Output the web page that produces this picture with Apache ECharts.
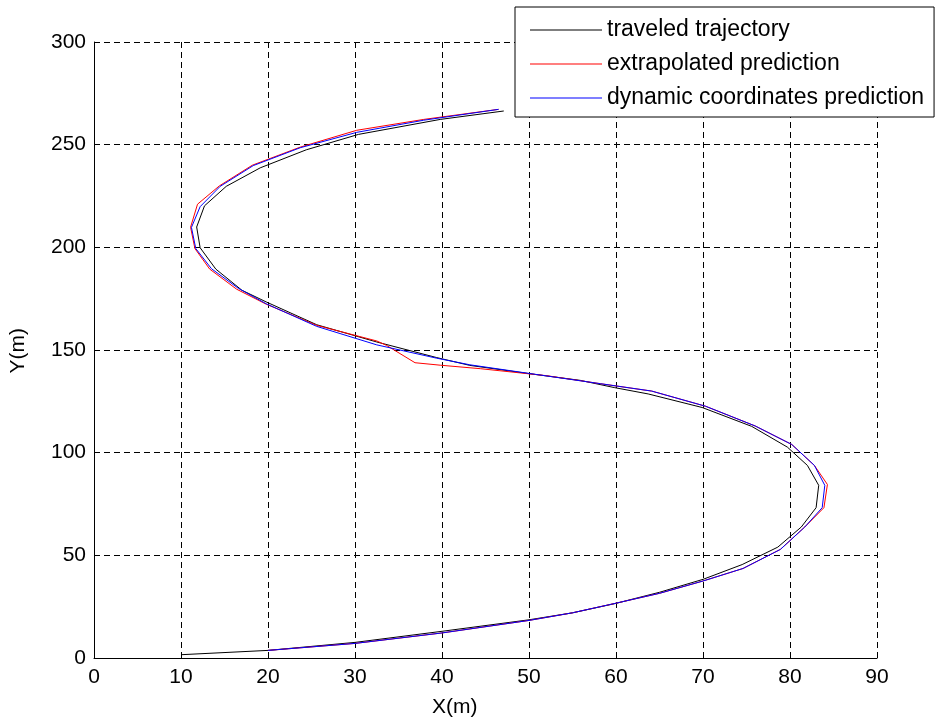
<!DOCTYPE html>
<html>
<head>
<meta charset="utf-8">
<script src="https://cdn.jsdelivr.net/npm/echarts@6/dist/echarts.min.js"></script>
<style>
html,body{margin:0;padding:0;background:#fff;}
#chart{width:936px;height:724px;}
</style>
</head>
<body>
<div id="chart"></div>
<script>
var xTicks = [0, 90, 10];
var yTicks = [0, 300, 50];
var seriesNames = ['traveled trajectory', 'extrapolated prediction', 'dynamic coordinates prediction'];

var traveledX = [10, 20, 30, 40, 50, 55, 60, 62.2, 65, 70, 74.5, 78.6, 81.3, 83, 83.3, 82, 79.7, 75.6, 69.9, 63.7, 59.8, 55.9, 50, 43.2, 39.4, 32.5, 25.6, 19.8, 17, 14, 12.2, 11.8, 12.7, 15.2, 19.1, 24.4, 30.4, 39.8, 47.1];
var traveledY = [1.6, 3.7, 7.6, 13, 18.6, 22, 26.6, 29, 32, 38.3, 45.5, 54, 63.8, 73.2, 84.1, 93.8, 102.7, 112.8, 122, 128.6, 131.7, 135.2, 138.5, 142.5, 146.3, 153.9, 162.3, 173.4, 179.1, 189.4, 199.8, 209.9, 220.2, 229.7, 238.7, 247.5, 255, 262.3, 266.4];

var extrapX = [20, 30, 40, 50, 55, 60, 65, 70, 74.6, 78.9, 81.7, 83.9, 84.3, 82.8, 80.2, 76, 70.3, 64.1, 58.2, 52, 44.4, 39.8, 36.9, 33.6, 32.5, 25.6, 19.8, 16.4, 13.3, 11.6, 11.1, 11.9, 14.4, 18.2, 23.7, 30.2, 37.9, 46.5];
var extrapY = [3.7, 7.1, 12.2, 18.3, 22, 26.7, 31.5, 37.5, 43.6, 52.9, 63.8, 73.2, 84.5, 93.8, 104, 113, 122.6, 130, 133.6, 137.5, 140.9, 142.6, 143.8, 152.3, 154.4, 162, 172.3, 179.6, 189.4, 199.4, 209.8, 221, 229.9, 240, 248.8, 257, 262.3, 267.2];

var dynamicX = [20, 30, 40, 50, 55, 60, 65, 70, 74.6, 78.9, 81.7, 83.7, 84, 82.8, 80.2, 76, 70.3, 64.1, 58.2, 50, 43.2, 39.4, 32.5, 25.6, 19.8, 16.6, 13.5, 11.7, 11.2, 12.2, 14.5, 18.3, 23.7, 30.2, 37.9, 46.5];
var dynamicY = [3.7, 7.1, 12.2, 18.3, 22, 26.7, 31.5, 37.5, 43.6, 52.9, 63.8, 73.2, 84.1, 93.8, 104, 113, 122.6, 130, 133.6, 138.6, 142.8, 146, 152.5, 161.5, 172.5, 180, 189.6, 199.4, 209.7, 219.8, 229.7, 239.8, 248.5, 256, 261.9, 267.2];

function pairs(xs, ys) {
  var out = [];
  for (var i = 0; i < xs.length; i++) out.push([xs[i], ys[i]]);
  return out;
}

var FONT = '"Liberation Sans", Arial, Helvetica, sans-serif';
var chart = echarts.init(document.getElementById('chart'), null, {renderer: 'canvas'});

var gridDash = {color: '#000', width: 1, type: [6, 4]};

chart.setOption({
  animation: false,
  backgroundColor: '#fff',
  grid: {left: 94, right: 59, top: 42, bottom: 66, containLabel: false},
  xAxis: {
    type: 'value', min: xTicks[0], max: xTicks[1], interval: xTicks[2],
    axisLine: {show: true, onZero: false, lineStyle: {color: '#000', width: 1}},
    axisTick: {show: true, inside: true, length: 5, lineStyle: {color: '#000'}},
    axisLabel: {color: '#000', fontSize: 21, fontFamily: FONT, margin: 9},
    splitLine: {show: true, lineStyle: gridDash}
  },
  yAxis: {
    type: 'value', min: yTicks[0], max: yTicks[1], interval: yTicks[2],
    axisLine: {show: true, onZero: false, lineStyle: {color: '#000', width: 1}},
    axisTick: {show: true, inside: true, length: 5, lineStyle: {color: '#000'}},
    axisLabel: {color: '#000', fontSize: 21, fontFamily: FONT, margin: 8},
    splitLine: {show: true, lineStyle: gridDash}
  },
  legend: {
    show: true,
    orient: 'vertical',
    left: 515, top: 7,
    padding: [11, 10, 7, 15],
    itemGap: 10,
    itemWidth: 72, itemHeight: 1,
    icon: 'rect',
    borderColor: '#000', borderWidth: 1, borderRadius: 0,
    backgroundColor: '#fff',
    textStyle: {color: '#000', fontSize: 23, fontFamily: FONT, lineHeight: 24},
    data: seriesNames
  },
  graphic: [
    {type: 'text', left: 432, top: 697, style: {text: 'X(m)', fill: '#000', font: '21px ' + FONT}},
    {type: 'text', left: 8, top: 328, rotation: Math.PI / 2, style: {text: 'Y(m)', fill: '#000', font: '21px ' + FONT}}
  ],
  series: [
    {name: seriesNames[0], type: 'line', data: pairs(traveledX, traveledY), symbol: 'none', lineStyle: {color: '#000', width: 1}, itemStyle: {color: '#000'}, z: 2},
    {name: seriesNames[1], type: 'line', data: pairs(extrapX, extrapY), symbol: 'none', lineStyle: {color: '#ff0000', width: 1}, itemStyle: {color: '#ff0000'}, z: 3},
    {name: seriesNames[2], type: 'line', data: pairs(dynamicX, dynamicY), symbol: 'none', lineStyle: {color: '#0000ff', width: 1}, itemStyle: {color: '#0000ff'}, z: 4}
  ]
});
</script>
</body>
</html>
